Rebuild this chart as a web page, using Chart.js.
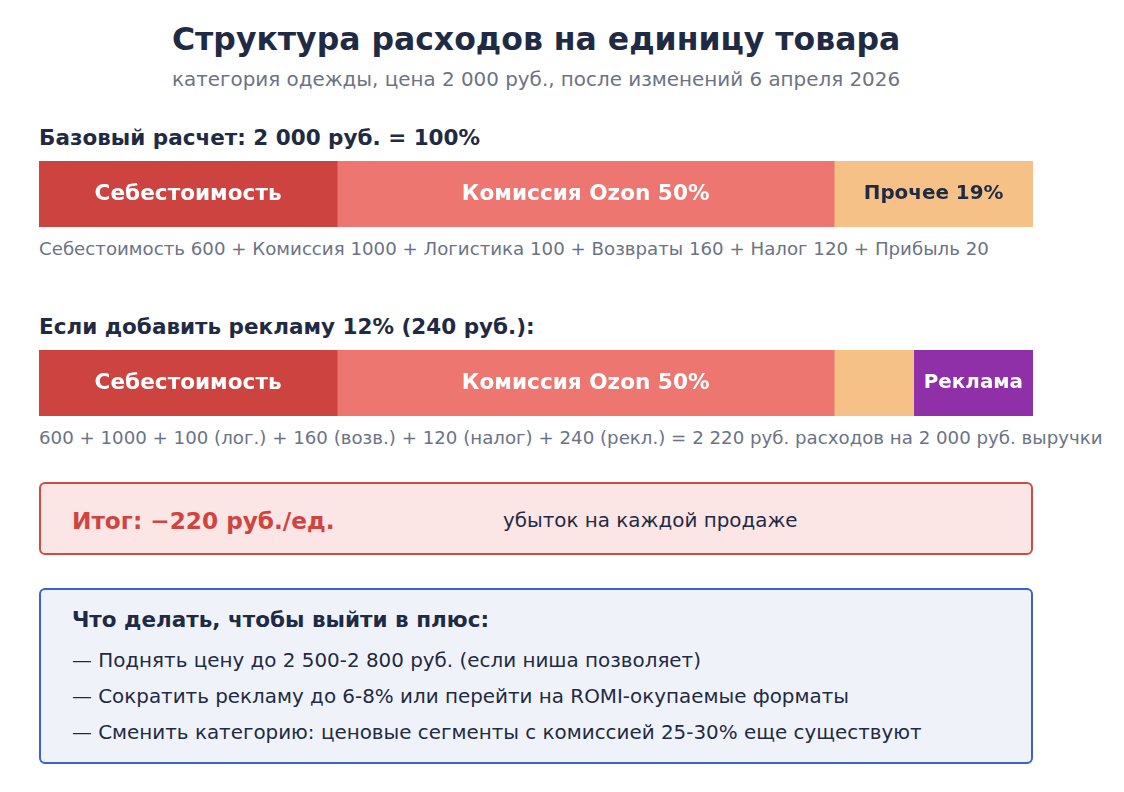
<!DOCTYPE html>
<html><head><meta charset="utf-8">
<script src="https://cdn.jsdelivr.net/npm/chart.js@4"></script>
<style>
body{margin:0;width:1124px;height:792px;background:#fff;font-family:"DejaVu Sans",sans-serif;color:#1f2a44;position:relative;overflow:hidden}
.t{position:absolute;white-space:nowrap}
.bar{position:absolute;left:39px;width:994px;height:66px}
.box{position:absolute;left:39px;width:994px;box-sizing:border-box;border-radius:6px}
</style></head><body>
<div class="t" style="left:172px;top:21px;font-size:31.5px;font-weight:bold">Структура расходов на единицу товара</div>
<div class="t" style="left:172px;top:68px;font-size:19.9px;color:#6b7385">категория одежды, цена 2 000 руб., после изменений 6 апреля 2026</div>
<div class="t" style="left:39px;top:125px;font-size:21.5px;font-weight:bold">Базовый расчет: 2 000 руб. = 100%</div>
<div class="bar" style="top:161px"><canvas id="bar1"></canvas></div>
<div class="t" style="left:39px;top:238px;font-size:18.2px;color:#6b7385">Себестоимость 600 + Комиссия 1000 + Логистика 100 + Возвраты 160 + Налог 120 + Прибыль 20</div>
<div class="t" style="left:39px;top:314px;font-size:21.5px;font-weight:bold">Если добавить рекламу 12% (240 руб.):</div>
<div class="bar" style="top:350px"><canvas id="bar2"></canvas></div>
<div class="t" style="left:39px;top:427px;font-size:18.2px;color:#6b7385">600 + 1000 + 100 (лог.) + 160 (возв.) + 120 (налог) + 240 (рекл.) = 2 220 руб. расходов на 2 000 руб. выручки</div>
<div class="box" style="top:482px;height:73px;background:#fbe5e5;border:2px solid #d04a46"></div>
<div class="t" style="left:72px;top:507px;font-size:23.2px;font-weight:bold;color:#d04440">Итог: −220 руб./ед.</div>
<div class="t" style="left:503px;top:509px;font-size:19.9px">убыток на каждой продаже</div>
<div class="box" style="top:588px;height:176px;background:#eff3f9;border:2px solid #3a63d0"></div>
<div class="t" style="left:72px;top:607px;font-size:21.5px;font-weight:bold">Что делать, чтобы выйти в плюс:</div>
<div class="t" style="left:72px;top:649px;font-size:19.9px">— Поднять цену до 2 500-2 800 руб. (если ниша позволяет)</div>
<div class="t" style="left:72px;top:685px;font-size:19.9px">— Сократить рекламу до 6-8% или перейти на ROMI-окупаемые форматы</div>
<div class="t" style="left:72px;top:721px;font-size:19.9px">— Сменить категорию: ценовые сегменты с комиссией 25-30% еще существуют</div>
<script>
// Значения сегментов (руб.)
const labels1 = ['Себестоимость', 'Комиссия Ozon 50%', 'Прочее 19%'];
const values1 = [600, 1000, 400];
const colors1 = ['#cc4340', '#ee7670', '#f6c186'];
const labels2 = ['Себестоимость', 'Комиссия Ozon 50%', '', 'Реклама'];
const values2 = [600, 1000, 160, 240];
const colors2 = ['#cc4340', '#ee7670', '#f6c186', '#9030a8'];
const textColors = { 'Прочее 19%': '#1f2a44' };

const labelPlugin = {
    id: 'segLabels',
    afterDatasetsDraw(chart) {
        const ctx = chart.ctx;
        ctx.save();
        ctx.textAlign = 'center';
        ctx.textBaseline = 'middle';
        chart.data.datasets.forEach((ds, i) => {
            const el = chart.getDatasetMeta(i).data[0];
            if (!ds.label) return;
            const small = ds.label === 'Реклама' || ds.label === 'Прочее 19%';
            ctx.font = 'bold ' + (small ? 19.9 : 21.6) + 'px "DejaVu Sans"';
            ctx.fillStyle = textColors[ds.label] || '#fff';
            ctx.fillText(ds.label, (el.base + el.x) / 2, el.y);
        });
        ctx.restore();
    }
};

function criarBarra(id, nomes, valores, cores) {
    new Chart(document.getElementById(id), {
        type: 'bar',
        data: {
            labels: [''],
            datasets: valores.map((v, i) => ({
                label: nomes[i], data: [v], backgroundColor: cores[i],
                barPercentage: 1, categoryPercentage: 1, borderWidth: 0
            }))
        },
        options: {
            indexAxis: 'y', responsive: true, maintainAspectRatio: false, animation: false,
            layout: { padding: 0 },
            plugins: { legend: { display: false }, tooltip: { enabled: false } },
            scales: {
                x: { stacked: true, min: 0, max: 2000, display: false },
                y: { stacked: true, display: false }
            }
        },
        plugins: [labelPlugin]
    });
}

criarBarra('bar1', labels1, values1, colors1);
criarBarra('bar2', labels2, values2, colors2);
</script>
</body></html>
